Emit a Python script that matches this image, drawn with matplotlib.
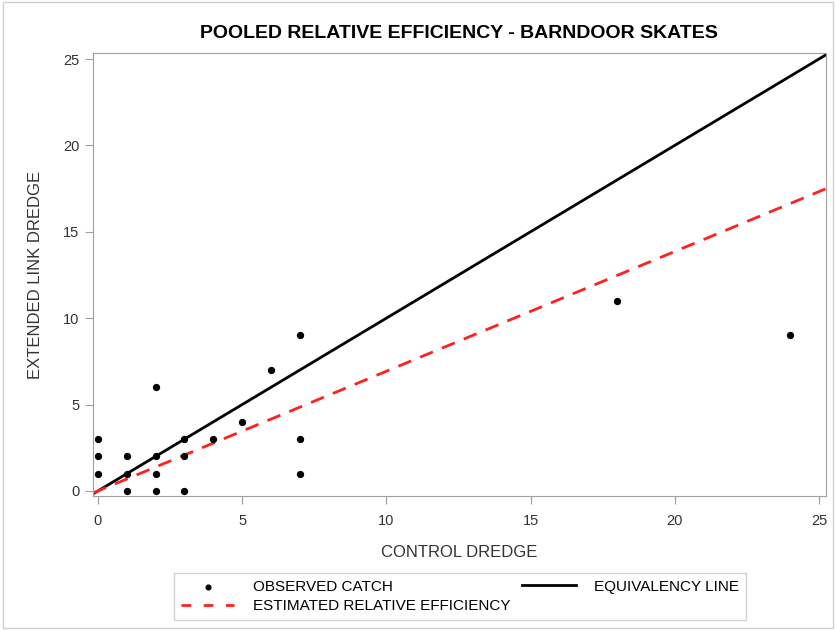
import numpy as np
import matplotlib
matplotlib.use("Agg")
from matplotlib import pyplot as plt

plt.rcParams['font.family'] = ['Liberation Sans', 'DejaVu Sans']

# observed catch: control dredge vs extended link dredge
control = [0, 0, 0, 1, 1, 1, 2, 2, 2, 2, 3, 3, 3, 4, 5, 6, 7, 7, 7, 18, 24]
extended = [1, 2, 3, 0, 1, 2, 0, 1, 2, 6, 0, 2, 3, 3, 4, 7, 9, 3, 1, 11, 9]
rel_eff = 0.693  # estimated relative efficiency slope
x_line = [-0.17, 25.25]

grey = '#a0a0a0'
fig = plt.figure(figsize=(8.35, 6.3), dpi=100)
ax = fig.add_axes([0.1114, 0.2127, 0.8776, 0.7032])

ax.scatter(control, extended, s=18, color='black', zorder=3, label='OBSERVED CATCH')
ax.plot(x_line, x_line, color='black', lw=2, label='EQUIVALENCY LINE')
ax.plot(x_line, [v * rel_eff for v in x_line], color='#ff2020', lw=2, dashes=(5, 3.5),
        label='ESTIMATED RELATIVE EFFICIENCY')

ax.set_xlim(-0.17, 25.24)
ax.set_ylim(-0.29, 25.35)
ax.set_xticks(range(0, 26, 5))
ax.set_yticks(range(0, 26, 5))
for s in ax.spines.values():
    s.set_color(grey)
ax.tick_params(direction='out', color=grey, length=6, labelsize=10.5, labelcolor='#333333')
ax.tick_params(axis='x', pad=7)
ax.tick_params(axis='y', pad=4)
ax.set_xlabel('CONTROL DREDGE', fontsize=12, color='#333333', labelpad=12)
ax.set_ylabel('EXTENDED LINK DREDGE', fontsize=12, color='#333333', labelpad=14)
ax.set_title('POOLED RELATIVE EFFICIENCY - BARNDOOR SKATES', fontsize=14, fontweight='bold', pad=11)

h, l = ax.get_legend_handles_labels()
# order: observed, estimated (col 1), equivalency (col 2)
order = [0, 2, 1]
leg = fig.legend([h[i] for i in order], [l[i] for i in order], ncol=2,
                 loc='center', bbox_to_anchor=(0.551, 0.0535), frameon=True, fancybox=False,
                 fontsize=11, handlelength=3.5, handletextpad=1.2, columnspacing=0.8,
                 borderpad=0.45, labelspacing=0.35, markerscale=0.8)
leg.get_frame().set_edgecolor('#c8c8c8')
leg.get_frame().set_linewidth(1)
for ln in leg.get_lines():
    if ln.get_color() == '#ff2020':
        ln.set_dashes((3.5, 4.5))

fig.patches.append(plt.Rectangle((0.004, 0.003), 0.994, 0.994, transform=fig.transFigure,
                                 fill=False, edgecolor='#d0d0d0', lw=1))
fig.savefig('out.png', dpi=100)
